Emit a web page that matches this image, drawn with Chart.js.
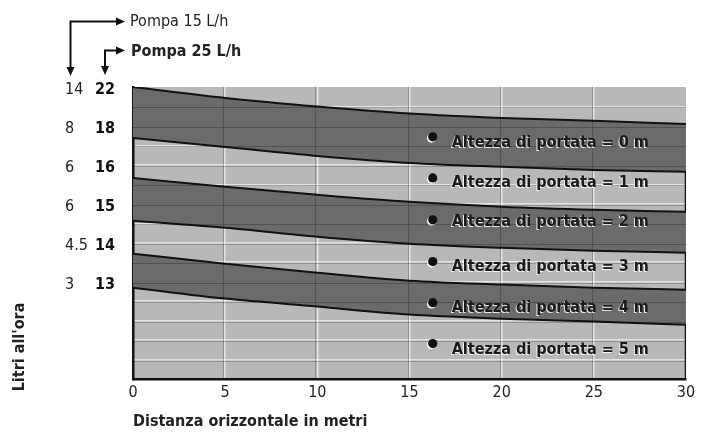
<!DOCTYPE html>
<html lang="it">
<head>
<meta charset="UTF-8">
<title>Litri all'ora</title>
<script src="https://cdn.jsdelivr.net/npm/chart.js"></script>
<style>
  html, body { margin: 0; padding: 0; background: #fff; }
  #wrap { width: 704px; height: 432px; }
</style>
</head>
<body>
<div id="wrap"><canvas id="chart" width="704" height="432"></canvas></div>
<script>
// distanza orizzontale (m)
const distanze = [0, 5, 10, 15, 20, 25, 30];

// curve limite delle fasce, in righe di griglia (0 = fondo, 15 = cima)
const curva1 = [15.00, 14.44, 14.00, 13.64, 13.41, 13.26, 13.10];
const curva2 = [12.38, 11.92, 11.46, 11.10, 10.90, 10.74, 10.64];
const curva3 = [10.33, 9.87, 9.46, 9.10, 8.85, 8.69, 8.59];
const curva4 = [8.13, 7.77, 7.31, 6.95, 6.74, 6.59, 6.49];
const curva5 = [6.44, 5.92, 5.46, 5.05, 4.85, 4.69, 4.59];
const curva6 = [4.69, 4.13, 3.72, 3.31, 3.10, 2.95, 2.79];

// etichette asse verticale
const righeEtichette = [15, 13, 11, 9, 7, 5];
const pompa25 = ['22', '18', '16', '15', '14', '13'];
const pompa15 = ['14', '8', '6', '6', '4.5', '3'];

// etichette delle altezze
const altezze = ['Altezza di portata = 0 m', 'Altezza di portata = 1 m', 'Altezza di portata = 2 m',
                 'Altezza di portata = 3 m', 'Altezza di portata = 4 m', 'Altezza di portata = 5 m'];
const puntoX = 16.26;
const puntoY = [12.44, 10.33, 8.18, 6.03, 3.92, 1.82];
const testoX = 17.29;
const testoY = [12.13, 10.08, 8.08, 5.77, 3.67, 1.51];

const FONT = "'DejaVu Sans Condensed', 'Liberation Sans Narrow', 'DejaVu Sans', sans-serif";
const SCURO = '#6b6b6b';
const CHIARO = '#b8b8b8';

function punti(arr) {
    return distanze.map((d, i) => ({ x: d, y: arr[i] }));
}

function curva(arr, riempi) {
    return {
        type: 'line',
        data: punti(arr),
        borderColor: '#111',
        borderWidth: 2,
        backgroundColor: SCURO,
        fill: riempi ? '-1' : false,
        pointRadius: 0,
        cubicInterpolationMode: 'monotone'
    };
}

function etichettaRiga(value, lista) {
    const i = righeEtichette.indexOf(value);
    return i >= 0 ? lista[i] : '';
}

// sfondo, ombre della griglia, testi e frecce
const decorazioni = {
    id: 'decorazioni',
    beforeDraw(chart) {
        const a = chart.chartArea;
        const ctx = chart.ctx;
        ctx.save();
        ctx.fillStyle = CHIARO;
        ctx.fillRect(a.left, a.top, a.right - a.left, a.bottom - a.top);
        ctx.restore();
    },
    beforeDatasetDraw(chart, args) {
        if (args.index !== 7) return;
        const ctx = chart.ctx;
        const xs = chart.scales.x, ys = chart.scales.y;
        ctx.save();
        ctx.fillStyle = '#fff';
        puntoY.forEach(v => {
            ctx.beginPath();
            ctx.arc(xs.getPixelForValue(puntoX) - 1.2, ys.getPixelForValue(v) + 1.2, 4.6, 0, Math.PI * 2);
            ctx.fill();
        });
        ctx.restore();
    },
    afterDatasetsDraw(chart) {
        const a = chart.chartArea;
        const ctx = chart.ctx;
        const xs = chart.scales.x, ys = chart.scales.y;
        ctx.save();
        ctx.strokeStyle = 'rgba(0,0,0,0.22)';
        ctx.lineWidth = 1;
        ys.ticks.forEach(t => {
            if (t.value <= 0 || t.value >= 15) return;
            const p = Math.round(ys.getPixelForValue(t.value)) + 1.5;
            ctx.beginPath();
            ctx.moveTo(a.left, p);
            ctx.lineTo(a.right, p);
            ctx.stroke();
        });
        xs.ticks.forEach(t => {
            if (t.value <= 0 || t.value >= 30) return;
            const p = Math.round(xs.getPixelForValue(t.value)) - 1.5;
            ctx.beginPath();
            ctx.moveTo(p, a.top);
            ctx.lineTo(p, a.bottom);
            ctx.stroke();
        });
        ctx.restore();
    },
    afterDraw(chart) {
        const ctx = chart.ctx;
        const xs = chart.scales.x, ys = chart.scales.y;
        ctx.save();

        // etichette altezze
        ctx.font = 'bold 16px ' + FONT;
        ctx.textBaseline = 'middle';
        ctx.textAlign = 'left';
        altezze.forEach((t, i) => {
            const px = xs.getPixelForValue(testoX);
            const py = ys.getPixelForValue(testoY[i]);
            ctx.fillStyle = 'rgba(255,255,255,0.85)';
            ctx.fillText(t, px - 1, py + 1);
            ctx.fillStyle = '#1a1a1a';
            ctx.fillText(t, px, py);
        });

        // titolo asse verticale
        ctx.fillStyle = '#222';
        ctx.translate(20, 347);
        ctx.rotate(-Math.PI / 2);
        ctx.textAlign = 'center';
        ctx.fillText("Litri all'ora", 0, 0);
        ctx.setTransform(1, 0, 0, 1, 0, 0);

        // frecce pompe
        ctx.strokeStyle = '#111';
        ctx.fillStyle = '#111';
        ctx.lineWidth = 2;
        function freccia(x0, y0, x1, y1) {
            ctx.beginPath();
            ctx.moveTo(x0, y1 - 8);
            ctx.lineTo(x0, y0);
            ctx.lineTo(x1 - 8, y0);
            ctx.stroke();
            ctx.beginPath();
            ctx.moveTo(x1, y0);
            ctx.lineTo(x1 - 9, y0 - 4);
            ctx.lineTo(x1 - 9, y0 + 4);
            ctx.closePath();
            ctx.fill();
            ctx.beginPath();
            ctx.moveTo(x0, y1);
            ctx.lineTo(x0 - 4, y1 - 9);
            ctx.lineTo(x0 + 4, y1 - 9);
            ctx.closePath();
            ctx.fill();
        }
        freccia(70.5, 21.5, 125, 76);
        freccia(105, 50.5, 125, 75);

        ctx.textAlign = 'left';
        ctx.fillStyle = '#222';
        ctx.font = '16px ' + FONT;
        ctx.fillText('Pompa 15 L/h', 130, 22);
        ctx.font = 'bold 16px ' + FONT;
        ctx.fillText('Pompa 25 L/h', 131, 51.5);
        ctx.restore();
    }
};

new Chart(document.getElementById('chart'), {
    type: 'line',
    data: {
        datasets: [
            curva(curva1, false),
            curva(curva2, true),
            curva(curva3, false),
            curva(curva4, true),
            curva(curva5, false),
            curva(curva6, true),
            {
                // bordo destro, dalla prima curva al fondo
                type: 'line',
                data: [{ x: distanze[distanze.length - 1], y: curva1[curva1.length - 1] },
                       { x: distanze[distanze.length - 1], y: 0 }],
                borderColor: '#111',
                borderWidth: 2.5,
                pointRadius: 0,
                fill: false
            },
            {
                type: 'scatter',
                order: -1,
                data: puntoY.map(v => ({ x: puntoX, y: v })),
                backgroundColor: '#111',
                borderWidth: 0,
                pointRadius: 4.6
            }
        ]
    },
    options: {
        responsive: false,
        animation: false,
        layout: { padding: { left: 65, top: 87, right: 18, bottom: 0 } },
        plugins: {
            legend: { display: false },
            tooltip: { enabled: false }
        },
        scales: {
            x: {
                type: 'linear',
                min: 0,
                max: 30,
                z: 1,
                ticks: {
                    stepSize: 5,
                    color: '#222',
                    padding: 4,
                    maxRotation: 0,
                    font: { family: FONT, size: 16 }
                },
                grid: {
                    drawTicks: false,
                    lineWidth: 1.5,
                    color: c => (c.tick && (c.tick.value === 0 || c.tick.value === 30)) ? 'rgba(0,0,0,0)' : 'rgba(255,255,255,0.6)'
                },
                border: { color: '#111', width: 2.5 },
                title: {
                    display: true,
                    text: 'Distanza orizzontale in metri',
                    align: 'start',
                    color: '#222',
                    padding: { top: 0, bottom: 1 },
                    font: { family: FONT, size: 16, weight: 'bold' }
                },
                afterFit: s => { s.height = 53; }
            },
            y: {
                type: 'linear',
                position: 'left',
                weight: 0,
                min: 0,
                max: 15,
                z: 1,
                ticks: {
                    stepSize: 1,
                    autoSkip: false,
                    color: '#111',
                    padding: 18,
                    labelOffset: 3,
                    font: { family: FONT, size: 16, weight: 'bold' },
                    callback: v => etichettaRiga(v, pompa25)
                },
                grid: {
                    drawTicks: false,
                    lineWidth: 1.5,
                    color: c => (c.tick && (c.tick.value === 0 || c.tick.value === 15)) ? 'rgba(0,0,0,0)' : 'rgba(255,255,255,0.6)'
                },
                border: { color: '#111', width: 2.5 },
                afterFit: s => { s.width = 38; }
            },
            y2: {
                type: 'linear',
                position: 'left',
                weight: 10,
                min: 0,
                max: 15,
                ticks: {
                    stepSize: 1,
                    autoSkip: false,
                    color: '#222',
                    padding: 0,
                    crossAlign: 'far',
                    labelOffset: 3,
                    font: { family: FONT, size: 16 },
                    callback: v => etichettaRiga(v, pompa15)
                },
                grid: { display: false, drawTicks: false },
                border: { display: false },
                afterFit: s => { s.width = 30; }
            }
        }
    },
    plugins: [decorazioni]
});
</script>
</body>
</html>
